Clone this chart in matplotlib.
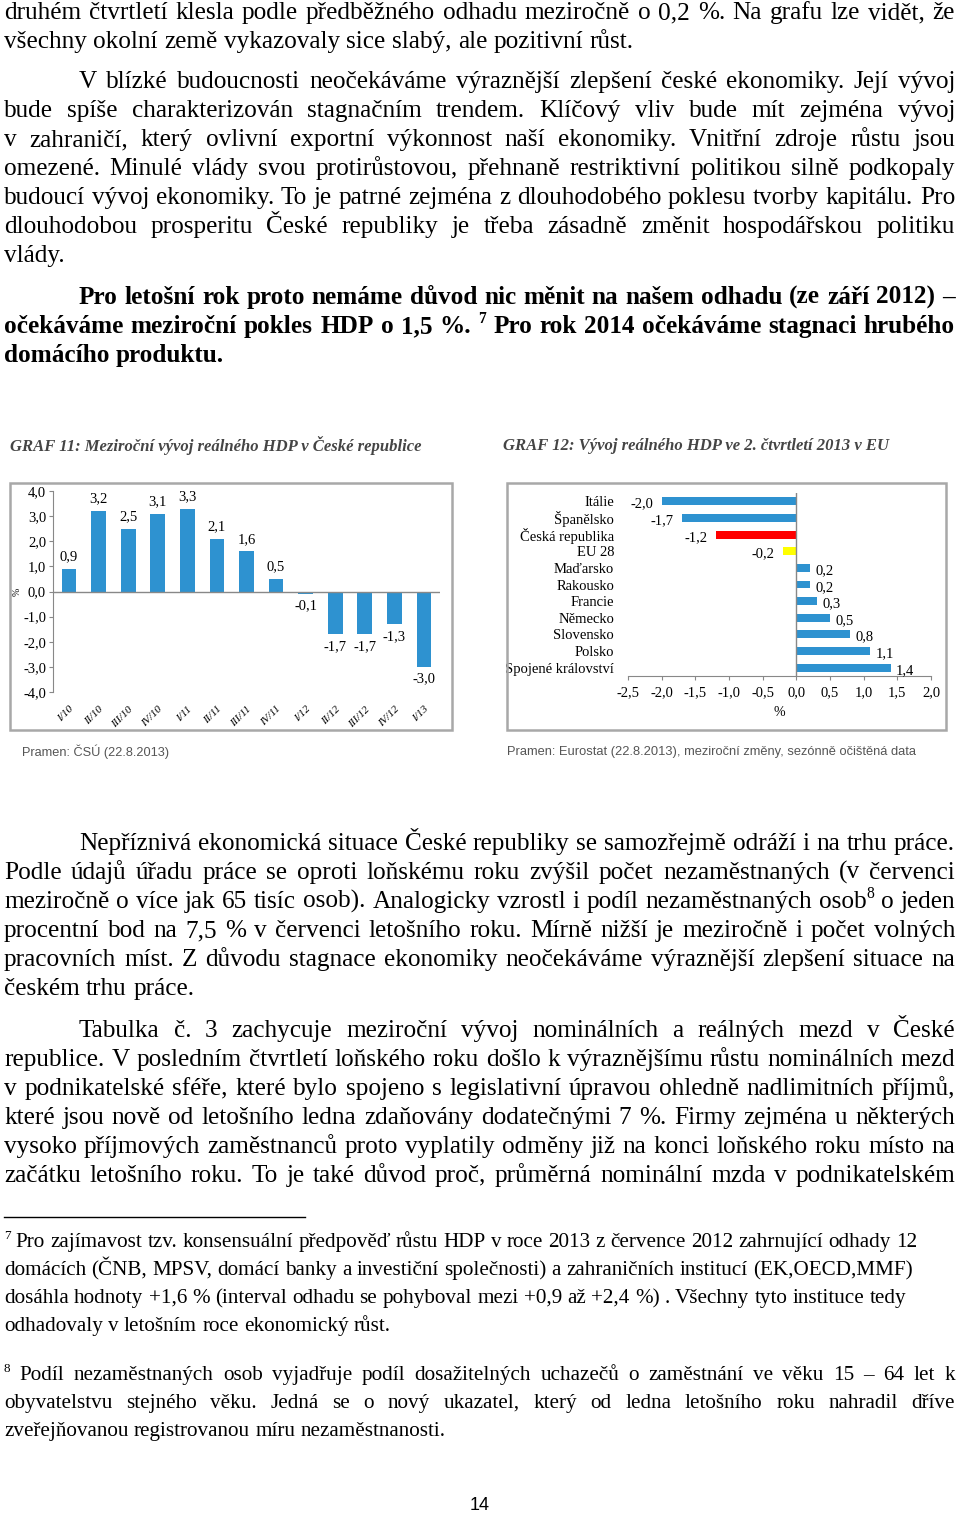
import matplotlib
matplotlib.use('Agg')
import matplotlib.pyplot as plt
from matplotlib.patches import Rectangle
from matplotlib.lines import Line2D

W, H = 960, 1513
SERIF = ['Liberation Serif', 'DejaVu Serif']
SANS = ['Liberation Sans', 'DejaVu Sans']
BLUE = '#2E92D0'

# GRAF 11 data
q_labels = ['I/10', 'II/10', 'III/10', 'IV/10', 'I/11', 'II/11', 'III/11',
            'IV/11', 'I/12', 'II/12', 'III/12', 'IV/12', 'I/13']
q_values = [0.9, 3.2, 2.5, 3.1, 3.3, 2.1, 1.6, 0.5, -0.1, -1.7, -1.7, -1.3, -3.0]
q_yticks = [4, 3, 2, 1, 0, -1, -2, -3, -4]

# GRAF 12 data
eu_countries = ['Itálie', 'Španělsko', 'Česká republika', 'EU 28', 'Maďarsko',
                'Rakousko', 'Francie', 'Německo', 'Slovensko', 'Polsko',
                'Spojené království']
eu_values = [-2.0, -1.7, -1.2, -0.2, 0.2, 0.2, 0.3, 0.5, 0.8, 1.1, 1.4]
eu_xticks = [-2.5, -2.0, -1.5, -1.0, -0.5, 0.0, 0.5, 1.0, 1.5, 2.0]

# text of the page (lines as in the original layout)
para1 = ["druhém čtvrtletí klesla podle předběžného odhadu meziročně o 0,2 %. Na grafu lze vidět, že",
         "všechny okolní země vykazovaly sice slabý, ale pozitivní růst."]
para2 = ["V blízké budoucnosti neočekáváme výraznější zlepšení české ekonomiky. Její vývoj",
         "bude spíše charakterizován stagnačním trendem.  Klíčový vliv bude mít zejména vývoj",
         "v zahraničí, který ovlivní exportní výkonnost naší ekonomiky. Vnitřní zdroje růstu jsou",
         "omezené. Minulé vlády svou protirůstovou,  přehnaně  restriktivní politikou silně podkopaly",
         "budoucí vývoj ekonomiky. To je patrné zejména z dlouhodobého poklesu tvorby kapitálu. Pro",
         "dlouhodobou prosperitu České republiky je třeba zásadně změnit hospodářskou politiku",
         "vlády."]
para3 = ["Pro letošní rok proto nemáme důvod nic měnit na našem odhadu (ze září 2012) –",
         "očekáváme meziroční pokles HDP o 1,5 %. ^7 Pro rok 2014 očekáváme stagnaci hrubého",
         "domácího produktu."]
para4 = ["Nepříznivá ekonomická situace České republiky se samozřejmě odráží i na trhu práce.",
         "Podle údajů úřadu práce se oproti loňskému roku zvýšil počet nezaměstnaných (v červenci",
         "meziročně o více jak 65 tisíc osob). Analogicky vzrostl i podíl nezaměstnaných osob^8 o jeden",
         "procentní bod na 7,5 % v červenci letošního roku. Mírně nižší je meziročně i počet volných",
         "pracovních míst. Z důvodu stagnace ekonomiky neočekáváme výraznější zlepšení situace na",
         "českém trhu práce."]
para5 = ["Tabulka č. 3 zachycuje meziroční vývoj nominálních a reálných mezd v České",
         "republice. V posledním čtvrtletí loňského roku došlo k výraznějšímu růstu nominálních mezd",
         "v podnikatelské sféře, které bylo spojeno s legislativní úpravou ohledně nadlimitních příjmů,",
         "které jsou nově od letošního ledna zdaňovány dodatečnými 7 %. Firmy zejména u některých",
         "vysoko příjmových zaměstnanců proto vyplatily odměny již na konci loňského roku místo na",
         "začátku letošního roku. To je také důvod proč, průměrná nominální mzda v podnikatelském"]
foot7 = ["^7 Pro zajímavost tzv. konsensuální předpověď růstu HDP v roce 2013 z července 2012 zahrnující odhady  12",
         "domácích (ČNB, MPSV, domácí banky a investiční společnosti) a zahraničních institucí (EK,OECD,MMF)",
         "dosáhla hodnoty +1,6 % (interval odhadu se pohyboval mezi +0,9 až +2,4 %) . Všechny tyto instituce tedy",
         "odhadovaly v letošním roce ekonomický růst."]
foot8 = ["^8 Podíl nezaměstnaných osob vyjadřuje podíl dosažitelných uchazečů o zaměstnání ve věku 15 – 64 let k",
         "obyvatelstvu stejného věku. Jedná se o nový ukazatel, který od ledna letošního roku nahradil dříve",
         "zveřejňovanou registrovanou míru nezaměstnanosti."]

fig = plt.figure(figsize=(W / 100, H / 100), dpi=100)
fig.patch.set_facecolor('white')
renderer = fig.canvas.get_renderer()


def fx(x):
    return x / W


def fy(y):
    return 1 - y / H


def text_w(s, size, weight):
    if not s:
        return 0.0
    t = fig.text(0, 0, s, fontsize=size, fontweight=weight, family=SERIF)
    w = t.get_window_extent(renderer).width
    t.remove()
    return w


def put_word(tok, x, y, size, weight, draw=True):
    # token may carry a superscript part after '^'
    base, sup = (tok.split('^') + [''])[:2]
    wb = text_w(base, size, weight)
    ws = text_w(sup, size * 0.62, weight)
    if draw:
        if base:
            fig.text(fx(x), fy(y), base, fontsize=size, fontweight=weight,
                     family=SERIF, va='baseline', ha='left')
        if sup:
            fig.text(fx(x + wb), fy(y - size * 0.55), sup, fontsize=size * 0.62,
                     fontweight=weight, family=SERIF, va='baseline', ha='left')
    return wb + ws


def put_line(line, y, x0, x1, size, weight='normal', justify=True):
    words = line.split()
    widths = [put_word(w, 0, 0, size, weight, draw=False) for w in words]
    space = text_w('a a', size, weight) - text_w('aa', size, weight)
    if justify and len(words) > 1:
        gap = (x1 - x0 - sum(widths)) / (len(words) - 1)
    else:
        gap = space
    x = x0
    for w, wd in zip(words, widths):
        put_word(w, x, y, size, weight)
        x += wd + gap


def put_para(lines, y0, step, size, weight='normal', indent=True,
             last_justified=False, x0=4, x1=955):
    for i, line in enumerate(lines):
        left = x0 + (75 if (indent and i == 0) else 0)
        just = last_justified or i < len(lines) - 1
        put_line(line, y0 + i * step, left, x1, size, weight, just)


BODY = 18.2
put_para(para1, 19, 29, BODY, indent=False)
put_para(para2, 88, 29, BODY)
put_para(para3, 304, 29, BODY, weight='bold')
put_para(para4, 850, 29, BODY)
put_para(para5, 1037, 29, BODY, last_justified=True)

fig.add_artist(Line2D([fx(4), fx(305)], [fy(1217), fy(1217)], color='black', lw=1))
FOOT = 15.2
for i, line in enumerate(foot7):
    put_line(line, 1247 + i * 28, 4, 955, FOOT, justify=False)
put_para(foot8, 1380, 28, FOOT, indent=False)

fig.text(fx(480), fy(1510), '14', fontsize=13, family=SANS, ha='center', va='baseline')

# chart titles, frames and sources
fig.text(fx(10), fy(446), 'GRAF 11: Meziroční vývoj reálného HDP v České republice',
         fontsize=12, fontweight='bold', fontstyle='italic', family=SERIF,
         color='#454545', va='center', ha='left')
fig.text(fx(503), fy(446), 'GRAF 12: Vývoj reálného HDP ve 2. čtvrtletí 2013 v EU',
         fontsize=12, fontweight='bold', fontstyle='italic', family=SERIF,
         color='#454545', va='center', ha='left')
for (bx0, bx1) in [(10, 452), (507, 946)]:
    fig.add_artist(Rectangle((fx(bx0), fy(730)), (bx1 - bx0) / W, (730 - 483) / H,
                             transform=fig.transFigure, fill=False,
                             edgecolor='#A8A8A8', lw=1.8))
fig.text(fx(22), fy(752), 'Pramen: ČSÚ (22.8.2013)', fontsize=9.2, family=SANS,
         color='#555555', va='center', ha='left')
fig.text(fx(507), fy(752), 'Pramen: Eurostat (22.8.2013), meziroční změny, sezónně očištěná data',
         fontsize=9.3, family=SANS, color='#555555', va='center', ha='left')


def fmt(v):
    return f'{v:.1f}'.replace('.', ',')


# GRAF 11
ax1 = fig.add_axes([fx(53), fy(692), (440 - 53) / W, (692 - 491) / H])
xs = list(range(len(q_values)))
ax1.bar(xs, q_values, width=0.5, color=BLUE)
ax1.set_xlim(-0.54, len(q_values) - 0.46)
ax1.set_ylim(-4, 4)
ax1.set_yticks(q_yticks)
ax1.set_yticklabels([fmt(v) for v in q_yticks], fontsize=10.5, family=SERIF)
ax1.set_xticks(xs)
ax1.set_xticklabels(q_labels, rotation=45, ha='right', va='top', rotation_mode='anchor',
                    fontsize=8, family=SERIF, fontstyle='italic')
ax1.tick_params(axis='x', length=0, pad=9)
ax1.tick_params(axis='y', length=3, pad=2, color='#888888')
for s in ['top', 'right', 'bottom']:
    ax1.spines[s].set_visible(False)
ax1.spines['left'].set_color('#888888')
ax1.axhline(0, color='#888888', lw=1)
for i, v in enumerate(q_values):
    ax1.annotate(fmt(v), (i, v), xytext=(0, 4 if v >= 0 else -4), textcoords='offset points',
                 ha='center', va='bottom' if v >= 0 else 'top', fontsize=10.5, family=SERIF)
ax1.patch.set_alpha(0)
fig.text(fx(17), fy(592), '%', rotation=90, fontsize=7, family=SERIF, ha='center', va='center')

# GRAF 12
ax2 = fig.add_axes([fx(628), fy(676), (931 - 628) / W, (676 - 493) / H])
ys = list(range(len(eu_values)))
colors = ['#FF0000' if c == 'Česká republika' else '#FFFF00' if c == 'EU 28' else BLUE
          for c in eu_countries]
ax2.barh(ys, eu_values, height=0.48, color=colors)
ax2.set_ylim(len(eu_values) - 0.5, -0.5)
ax2.set_xlim(-2.5, 2.0)
ax2.set_xticks(eu_xticks)
ax2.set_xticklabels([fmt(v) for v in eu_xticks], fontsize=10.5, family=SERIF)
ax2.set_yticks(ys)
ax2.set_yticklabels(eu_countries, fontsize=10.5, family=SERIF)
ax2.tick_params(axis='y', length=0, pad=10)
ax2.tick_params(axis='x', length=3, pad=4, color='#888888')
for s in ['top', 'right', 'left']:
    ax2.spines[s].set_visible(False)
ax2.spines['bottom'].set_color('#888888')
ax2.axvline(0, color='#888888', lw=1)
ax2.set_xlabel('%', fontsize=10, family=SERIF, labelpad=5)
for i, v in enumerate(eu_values):
    ax2.annotate(fmt(v), (v, i), xytext=(4 if v >= 0 else -6, -2), textcoords='offset points',
                 ha='left' if v >= 0 else 'right', va='center', fontsize=10.5, family=SERIF)
ax2.patch.set_alpha(0)

fig.savefig('out.png', dpi=100)
